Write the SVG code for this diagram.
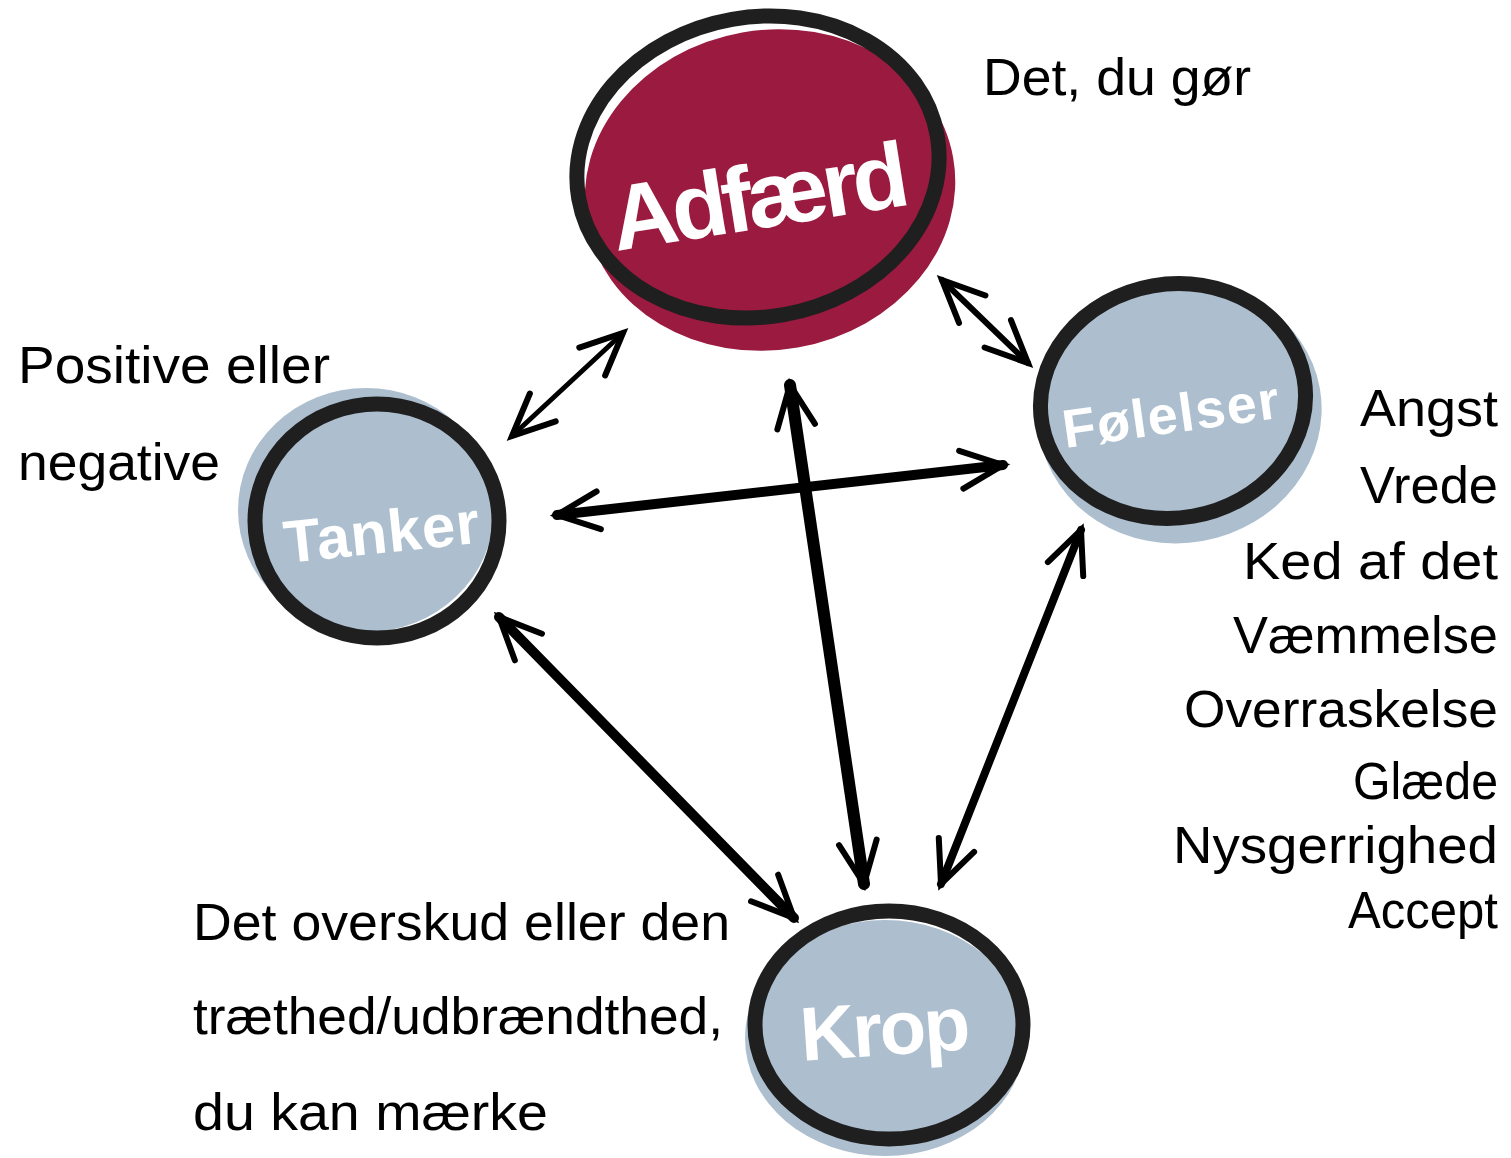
<svg xmlns="http://www.w3.org/2000/svg" width="1511" height="1158" viewBox="0 0 1511 1158">
<style>
.ring{fill:none;stroke:#1f1f1f;stroke-width:15}
.red{fill:#9a1a40}
.blue{fill:#adbfcf}
.lbl{font-family:"Liberation Sans",Arial,sans-serif;fill:#ffffff;font-weight:bold}
.note{font-family:"Liberation Sans",Arial,sans-serif;fill:#000000;font-size:52px}
.ar{fill:none;stroke:#000000;stroke-linecap:round;marker-start:url(#hd);marker-end:url(#hd)}
</style>
<defs>
<marker id="hd" markerUnits="userSpaceOnUse" viewBox="-50 -25 60 50" refX="0" refY="0" markerWidth="60" markerHeight="50" orient="auto-start-reverse" overflow="visible">
<path d="M-42,-19 L0,0 L-42,19" fill="none" stroke="#000" stroke-width="6" stroke-linecap="round" stroke-linejoin="miter"/>
</marker>
</defs>
<g id="connectors">
<path class="ar" stroke-width="5" d="M512,436 L623,333"/>
<path class="ar" stroke-width="6" d="M942,280 L1028,363"/>
<path class="ar" stroke-width="10" d="M557,515 L1003,465"/>
<path class="ar" stroke-width="12" d="M790,385 L864,884"/>
<path class="ar" stroke-width="10" d="M499,617 L794,918"/>
<path class="ar" stroke-width="8" d="M1081,530 L941,884"/>
</g>
<g id="adfaerd">
<ellipse class="red" cx="770" cy="190" rx="186" ry="160" transform="rotate(-10 770 190)"/>
<ellipse class="ring" cx="758" cy="167" rx="182" ry="150" transform="rotate(-10 758 167)"/>
<text class="lbl" x="760" y="228" font-size="92" text-anchor="middle" textLength="300" transform="rotate(-9 760 200)">Adfærd</text>
</g>
<g id="tanker">
<ellipse class="blue" cx="366" cy="510" rx="128" ry="122"/>
<ellipse class="ring" cx="377" cy="521" rx="122" ry="117"/>
<text class="lbl" x="381" y="553" font-size="60" text-anchor="middle" textLength="196" transform="rotate(-6 381 530)">Tanker</text>
</g>
<g id="foelelser">
<ellipse class="blue" cx="1180" cy="413" rx="142" ry="130" transform="rotate(-10 1180 413)"/>
<ellipse class="ring" cx="1173" cy="401" rx="133" ry="117" transform="rotate(-10 1173 401)"/>
<text class="lbl" x="1170" y="433" font-size="54" text-anchor="middle" textLength="218" transform="rotate(-8 1170 410)">Følelser</text>
</g>
<g id="krop">
<ellipse class="blue" cx="885" cy="1038" rx="140" ry="118"/>
<ellipse class="ring" cx="889" cy="1025" rx="134" ry="114"/>
<text class="lbl" x="885" y="1055" font-size="76" text-anchor="middle" textLength="170" transform="rotate(-4 885 1030)">Krop</text>
</g>
<g id="notes">
<text class="note" x="983" y="95" textLength="268" lengthAdjust="spacingAndGlyphs">Det, du gør</text>
<text class="note" x="18" y="383" textLength="312" lengthAdjust="spacingAndGlyphs">Positive eller</text>
<text class="note" x="18" y="480" textLength="202" lengthAdjust="spacingAndGlyphs">negative</text>
<g text-anchor="end">
<text class="note" x="1498" y="426" textLength="138" lengthAdjust="spacingAndGlyphs">Angst</text>
<text class="note" x="1498" y="503" textLength="138" lengthAdjust="spacingAndGlyphs">Vrede</text>
<text class="note" x="1498" y="579" textLength="255" lengthAdjust="spacingAndGlyphs">Ked af det</text>
<text class="note" x="1498" y="653" textLength="265" lengthAdjust="spacingAndGlyphs">Væmmelse</text>
<text class="note" x="1498" y="727" textLength="314" lengthAdjust="spacingAndGlyphs">Overraskelse</text>
<text class="note" x="1498" y="799" textLength="145" lengthAdjust="spacingAndGlyphs">Glæde</text>
<text class="note" x="1498" y="863" textLength="325" lengthAdjust="spacingAndGlyphs">Nysgerrighed</text>
<text class="note" x="1498" y="928" textLength="150" lengthAdjust="spacingAndGlyphs">Accept</text>
</g>
<text class="note" x="193" y="940" textLength="537" lengthAdjust="spacingAndGlyphs">Det overskud eller den</text>
<text class="note" x="193" y="1034" textLength="530" lengthAdjust="spacingAndGlyphs">træthed/udbrændthed,</text>
<text class="note" x="193" y="1130" textLength="355" lengthAdjust="spacingAndGlyphs">du kan mærke</text>
</g>
</svg>
